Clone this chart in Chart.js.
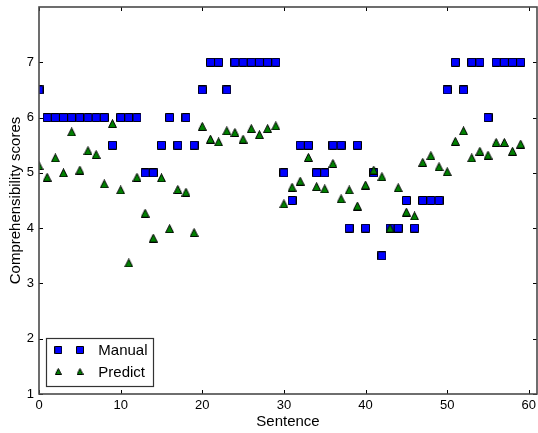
<!DOCTYPE html>
<html><head><meta charset="utf-8">
<script src="https://cdn.jsdelivr.net/npm/chart.js@4.4.0/dist/chart.umd.min.js"></script>
<style>html,body{margin:0;padding:0;background:#fff}#wrap{width:538px;height:433px}</style>
</head><body><div id="wrap"><canvas id="c" width="538" height="433"></canvas></div>
<script>
const sentences = [0,1,2,3,4,5,6,7,8,9,10,11,12,13,14,15,16,17,18,19,20,21,22,23,24,25,26,27,28,29,30,31,32,33,34,35,36,37,38,39,40,41,42,43,44,45,46,47,48,49,50,51,52,53,54,55,56,57,58,59];
const manual = [6.5,6,6,6,6,6,6,6,6,5.5, 6,6,6,5,5,5.5,6,5.5,6,5.5, 6.5,7,7,6.5,7,7,7,7,7,7, 5,4.5,5.5,5.5,5,5,5.5,5.5,4,5.5, 4,5,3.5,4,4,4.5,4,4.5,4.5,4.5, 6.5,7,6.5,7,7,6,7,7,7,7];
const predict = [5.13,4.92,5.27,5.0,5.74,5.05,5.40,5.33,4.80,5.89, 4.69,3.37,4.92,4.27,3.82,4.91,3.99,4.70,4.65,3.92, 5.84,5.61,5.56,5.76,5.73,5.61,5.80,5.69,5.80,5.85, 4.44,4.74,4.85,5.28,4.75,4.71,5.17,4.53,4.69,4.40, 4.78,5.05,4.93,4.0,4.73,4.29,4.22,5.19,5.31,5.11, 5.02,5.57,5.76,5.27,5.39,5.32,5.55,5.55,5.39,5.52];
const seriesNames = ['Manual', 'Predict'];
const xTicks = [0,10,20,30,40,50,60];
const yTicks = [1,2,3,4,5,6,7];
const xRange = [0, 61];
const yRange = [1, 8];

const FONT = "'Liberation Sans', Arial, sans-serif";

function makeMarker(shape, size, fill) {
  const c = document.createElement('canvas');
  c.width = size; c.height = size;
  const g = c.getContext('2d');
  g.fillStyle = fill; g.strokeStyle = '#000'; g.lineWidth = 1;
  g.beginPath();
  if (shape === 'square') { g.rect(0.5, 0.5, size - 1, size - 1); }
  else { g.moveTo(size / 2, 0.5); g.lineTo(size - 0.5, size - 0.5); g.lineTo(0.5, size - 0.5); g.closePath(); }
  g.fill(); g.stroke();
  return c;
}
const BLUE = '#0000ff', GREEN = '#008000';
const sqMarker = makeMarker('square', 9, BLUE);
const triMarker = makeMarker('triangle', 9, GREEN);
const sqLegend = makeMarker('square', 8, BLUE);
const triLegend = makeMarker('triangle', 7, GREEN);

const framePlugin = {
  id: 'frame',
  afterDraw(chart) {
    const {ctx, chartArea: a, scales} = chart;
    ctx.save();
    ctx.strokeStyle = '#000'; ctx.lineWidth = 1;
    const tl = 4;
    ctx.beginPath();
    xTicks.forEach(v => {
      const x = Math.round(scales.x.getPixelForValue(v)) + 0.5;
      ctx.moveTo(x, a.bottom); ctx.lineTo(x, a.bottom - tl);
      ctx.moveTo(x, a.top); ctx.lineTo(x, a.top + tl);
    });
    yTicks.forEach(v => {
      const y = Math.round(scales.y.getPixelForValue(v)) + 0.5;
      ctx.moveTo(a.left, y); ctx.lineTo(a.left + tl, y);
      ctx.moveTo(a.right, y); ctx.lineTo(a.right - tl, y);
    });
    ctx.stroke();
    ctx.strokeStyle = '#4a4a4a'; ctx.lineWidth = 1.6;
    ctx.strokeRect(a.left, a.top, a.right - a.left, a.bottom - a.top);

    // legend
    const lx = 46.5, ly = 338.5, lw = 107, lh = 48;
    ctx.fillStyle = '#fff';
    ctx.fillRect(lx, ly, lw, lh);
    ctx.strokeStyle = '#333'; ctx.lineWidth = 1.2;
    ctx.strokeRect(lx, ly, lw, lh);
    const rows = [[sqLegend, 350], [triLegend, 371.5]];
    ctx.font = '15px ' + FONT;
    ctx.fillStyle = '#000';
    ctx.textBaseline = 'middle';
    chart.data.datasets.forEach((ds, i) => {
      const [m, yy] = rows[i];
      [58.3, 80].forEach(xx => ctx.drawImage(m, xx - m.width / 2, yy - m.height / 2));
      ctx.fillText(ds.label, 98.3, yy + 1);
    });
    ctx.restore();
  }
};

const chart = new Chart(document.getElementById('c'), {
  type: 'scatter',
  data: {
    datasets: [
      { label: seriesNames[0], data: sentences.map((s, i) => ({x: s, y: manual[i]})), pointStyle: sqMarker, order: 1 },
      { label: seriesNames[1], data: sentences.map((s, i) => ({x: s, y: predict[i]})), pointStyle: triMarker, order: 0 }
    ]
  },
  options: {
    responsive: false,
    devicePixelRatio: 1,
    animation: false,
    layout: { autoPadding: false, padding: { top: 7, right: 1, left: 0, bottom: 0 } },
    plugins: { legend: { display: false }, tooltip: { enabled: false } },
    scales: {
      x: {
        type: 'linear', min: xRange[0], max: xRange[1],
        afterBuildTicks: s => { s.ticks = xTicks.map(v => ({value: v})); },
        afterFit: s => { s.height = 39; s.paddingLeft = 0; s.paddingRight = 0; },
        grid: { display: false, drawTicks: false },
        border: { display: false },
        ticks: { color: '#000', font: { family: FONT, size: 13 }, padding: 4, maxRotation: 0 },
        title: { display: true, text: 'Sentence', color: '#000', font: { family: FONT, size: 15 }, padding: { top: 0, bottom: 2 } }
      },
      y: {
        type: 'linear', min: yRange[0], max: yRange[1],
        afterBuildTicks: s => { s.ticks = yTicks.map(v => ({value: v})); },
        afterFit: s => { s.width = 39; s.paddingTop = 0; s.paddingBottom = 0; },
        grid: { display: false, drawTicks: false },
        border: { display: false },
        ticks: { color: '#000', font: { family: FONT, size: 13 }, padding: 5 },
        title: { display: true, text: 'Comprehensibility scores', color: '#000', font: { family: FONT, size: 15 }, padding: { top: 7, bottom: 0 } }
      }
    }
  },
  plugins: [framePlugin]
});
</script></body></html>
